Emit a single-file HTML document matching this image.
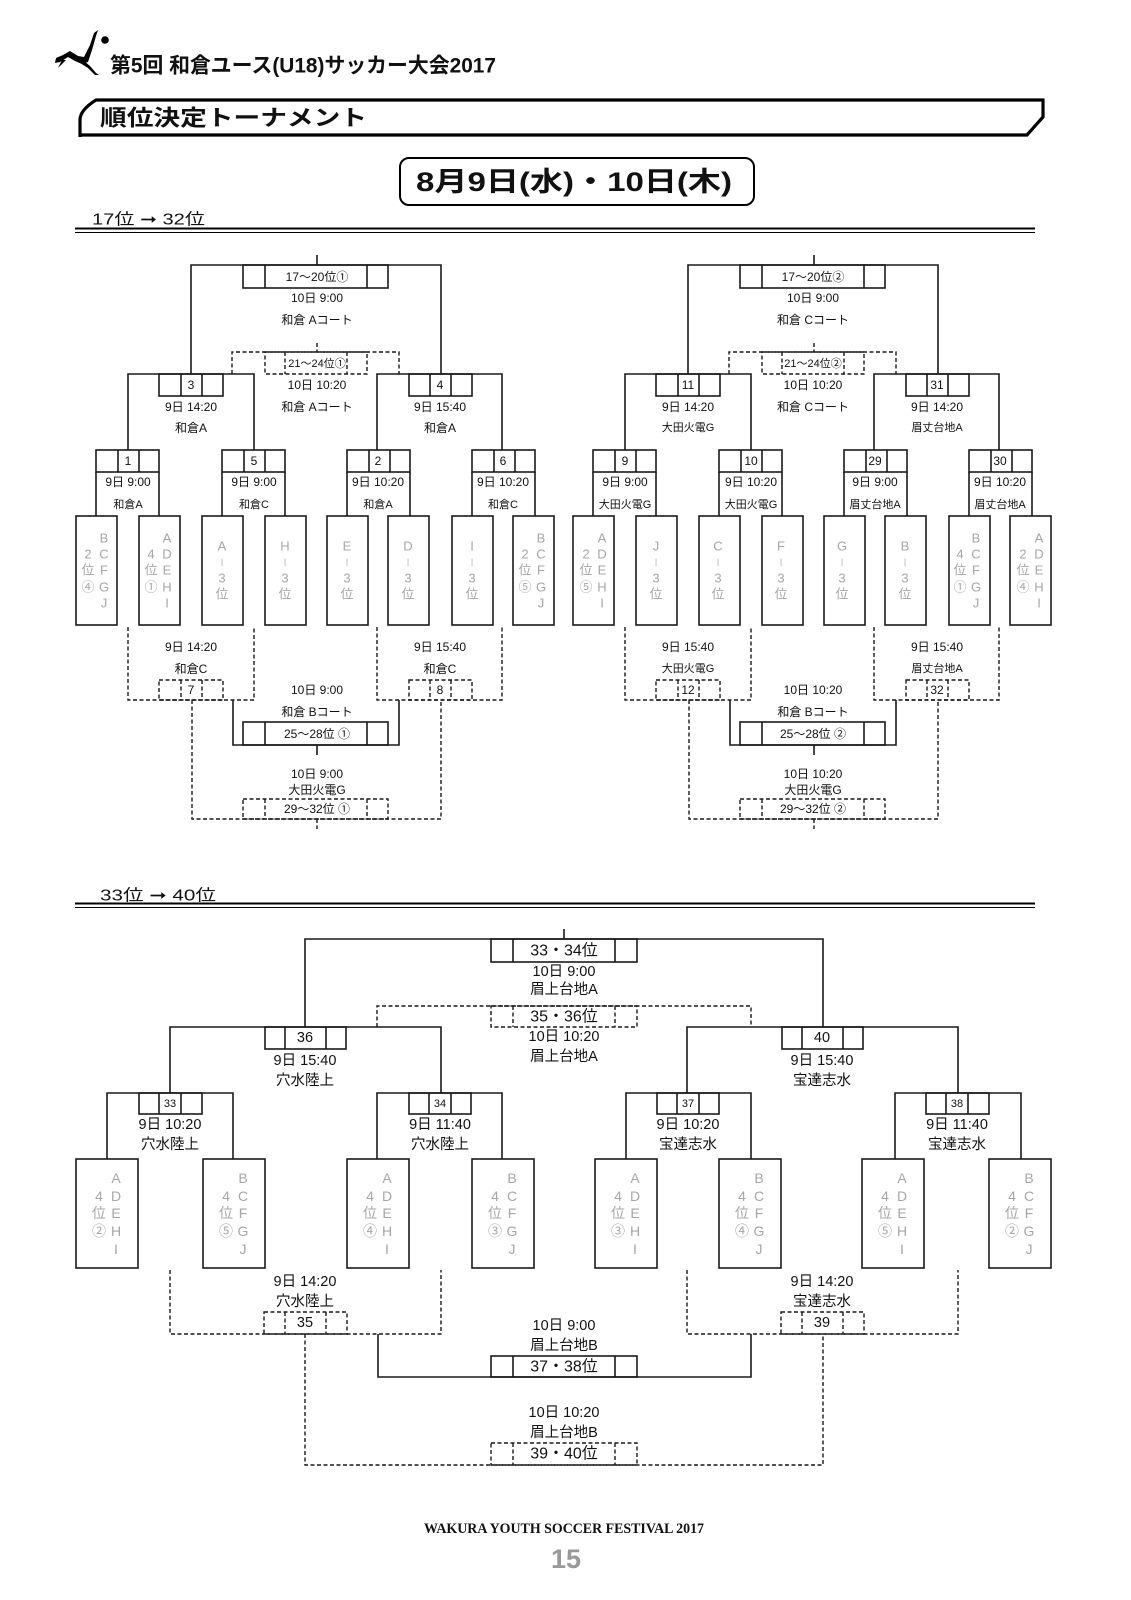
<!DOCTYPE html>
<html><head><meta charset="utf-8"><style>
html,body{margin:0;padding:0;background:#fff;}
svg{display:block;}
text{font-family:"Liberation Sans","Noto Sans CJK JP",sans-serif;fill:#111;}
.s{fill:none;stroke:#1a1a1a;stroke-width:1.6;}
.d{fill:none;stroke:#1a1a1a;stroke-width:1.4;stroke-dasharray:4 2.5;}
.g text,.g{fill:#a6a6a6;}
.t12{font-size:12px;}
.t11{font-size:11px;}
.t15{font-size:15px;}
</style></head><body>
<svg width="1131" height="1600" viewBox="0 0 1131 1600" xmlns="http://www.w3.org/2000/svg" text-anchor="middle" dominant-baseline="central">
<!-- logo -->
<g fill="#000">
<circle cx="105" cy="40" r="3.8"/>
<path d="M56 58 L63 55 L70 51 L78 56 L84 57 L90 45 L94 33 L98 30 L96 36 L92 50 L88 62 L82 64 L75 61 L68 57 L60 62 L55 63 Z"/>
<path d="M83 60 L90 66 L96 73 L99 75 L95 75 L88 68 L80 63 Z"/>
<path d="M62 60 L58 68 L56 70 L60 66 L66 60 Z"/>
</g>
<text x="110" y="66" text-anchor="start" style="font-size:21px;font-weight:bold" textLength="386" lengthAdjust="spacingAndGlyphs">第5回 和倉ユース(U18)サッカー大会2017</text>
<!-- banner -->
<path d="M80 137 V120 Q80 110 96 100 H1043 V117 L1027 135 H80" fill="none" stroke="#000" stroke-width="3.2"/>
<text x="100" y="118" text-anchor="start" style="font-size:22px;font-weight:bold" textLength="267" lengthAdjust="spacingAndGlyphs">順位決定トーナメント</text>
<!-- date box -->
<rect x="400" y="158" width="354" height="47" rx="9" ry="9" fill="none" stroke="#000" stroke-width="2"/>
<text x="574" y="182" style="font-size:27px;font-weight:bold" textLength="316" lengthAdjust="spacingAndGlyphs">8月9日(水)・10日(木)</text>
<!-- section 1 -->
<text x="92" y="220" text-anchor="start" style="font-size:16px" textLength="113" lengthAdjust="spacingAndGlyphs">17位 ➞ 32位</text>
<line x1="75" y1="228.5" x2="1035" y2="228.5" stroke="#000" stroke-width="2"/>
<line x1="75" y1="232.5" x2="1035" y2="232.5" stroke="#000" stroke-width="1"/>

<!-- TOP LEFT -->
<g id="TL">
<path class="s" d="M317 255V265M191 374V265H441V374"/>
<rect class="s" x="243" y="265" width="145" height="23"/><path class="s" d="M265 265V288M367 265V288"/>
<path class="s" d="M128 450V374H254V450M377 450V374H502V450"/>
<rect class="s" x="159" y="374" width="64" height="22"/><path class="s" d="M181 374V396M202 374V396"/>
<rect class="s" x="409" y="374" width="63" height="22"/><path class="s" d="M430 374V396M451 374V396"/>
<rect class="s" x="96" y="450" width="63" height="22"/><path class="s" d="M118 450V472M139 450V472M96 472V516M159 472V516"/>
<rect class="s" x="222" y="450" width="63" height="22"/><path class="s" d="M244 450V472M265 450V472M222 472V516M285 472V516"/>
<rect class="s" x="347" y="450" width="63" height="22"/><path class="s" d="M369 450V472M390 450V472M347 472V516M410 472V516"/>
<rect class="s" x="472" y="450" width="63" height="22"/><path class="s" d="M494 450V472M515 450V472M472 472V516M535 472V516"/>
<rect class="s" x="76" y="516" width="41" height="109"/><rect class="s" x="139" y="516" width="41" height="109"/>
<rect class="s" x="202" y="516" width="41" height="109"/><rect class="s" x="265" y="516" width="41" height="109"/>
<rect class="s" x="327" y="516" width="41" height="109"/><rect class="s" x="388" y="516" width="41" height="109"/>
<rect class="s" x="452" y="516" width="41" height="109"/><rect class="s" x="513" y="516" width="41" height="109"/>
<path class="s" d="M233 700V745H399V700M317 745V755"/>
<rect class="s" x="243" y="722" width="145" height="23"/><path class="s" d="M265 722V745M367 722V745"/>
<path class="d" d="M317 343V352M232 374V352H399V374"/>
<rect class="d" x="265" y="352" width="102" height="22"/><path class="d" d="M285 352V374M347 352V374"/>
<path class="d" d="M128 627V700H254V627M377 627V700H502V627"/>
<rect class="d" x="159" y="680" width="64" height="20"/><path class="d" d="M181 680V700M202 680V700"/>
<rect class="d" x="409" y="680" width="63" height="20"/><path class="d" d="M430 680V700M451 680V700"/>
<path class="d" d="M192 700V819H441V700M317 819V829"/>
<rect class="d" x="243" y="799" width="145" height="20"/><path class="d" d="M265 799V819M367 799V819"/>
</g>
<g class="t12">
<text x="317" y="277">17～20位①</text>
<text x="317" y="298">10日 9:00</text>
<text x="317" y="320">和倉 Aコート</text>
<text x="317" y="364" class="t11">21～24位①</text>
<text x="317" y="385">10日 10:20</text>
<text x="317" y="407">和倉 Aコート</text>
<text x="191" y="385">3</text><text x="191" y="407">9日 14:20</text><text x="191" y="428">和倉A</text>
<text x="440" y="385">4</text><text x="440" y="407">9日 15:40</text><text x="440" y="428">和倉A</text>
<text x="128" y="461">1</text><text x="128" y="482">9日 9:00</text><text x="128" y="505" class="t11">和倉A</text>
<text x="254" y="461">5</text><text x="254" y="482">9日 9:00</text><text x="254" y="505" class="t11">和倉C</text>
<text x="378" y="461">2</text><text x="378" y="482">9日 10:20</text><text x="378" y="505" class="t11">和倉A</text>
<text x="503" y="461">6</text><text x="503" y="482">9日 10:20</text><text x="503" y="505" class="t11">和倉C</text>
<text x="191" y="647">9日 14:20</text><text x="191" y="669">和倉C</text><text x="191" y="690">7</text>
<text x="440" y="647">9日 15:40</text><text x="440" y="669">和倉C</text><text x="440" y="690">8</text>
<text x="317" y="690">10日 9:00</text><text x="317" y="712">和倉 Bコート</text><text x="317" y="734">25～28位 ①</text>
<text x="317" y="774">10日 9:00</text><text x="317" y="790">大田火電G</text><text x="317" y="809">29～32位 ①</text>
</g>
<g class="g" style="font-size:13px">
<!-- left team labels -->
<text x="104" y="538">B</text><text x="104" y="554">C</text><text x="104" y="570">F</text><text x="104" y="587">G</text><text x="104" y="603">J</text>
<text x="88" y="554">2</text><text x="88" y="570">位</text><text x="88" y="587">④</text>
<text x="167" y="538">A</text><text x="167" y="554">D</text><text x="167" y="570">E</text><text x="167" y="587">H</text><text x="167" y="603">I</text>
<text x="151" y="554">4</text><text x="151" y="570">位</text><text x="151" y="587">①</text>
<text x="222" y="546">A</text><text x="222" y="562" style="font-size:8px">|</text><text x="222" y="578">3</text><text x="222" y="594">位</text>
<text x="285" y="546">H</text><text x="285" y="562" style="font-size:8px">|</text><text x="285" y="578">3</text><text x="285" y="594">位</text>
<text x="347" y="546">E</text><text x="347" y="562" style="font-size:8px">|</text><text x="347" y="578">3</text><text x="347" y="594">位</text>
<text x="408" y="546">D</text><text x="408" y="562" style="font-size:8px">|</text><text x="408" y="578">3</text><text x="408" y="594">位</text>
<text x="472" y="546">I</text><text x="472" y="562" style="font-size:8px">|</text><text x="472" y="578">3</text><text x="472" y="594">位</text>
<text x="541" y="538">B</text><text x="541" y="554">C</text><text x="541" y="570">F</text><text x="541" y="587">G</text><text x="541" y="603">J</text>
<text x="525" y="554">2</text><text x="525" y="570">位</text><text x="525" y="587">⑤</text>
<!-- right team labels -->
<text x="602" y="538">A</text><text x="602" y="554">D</text><text x="602" y="570">E</text><text x="602" y="587">H</text><text x="602" y="603">I</text>
<text x="586" y="554">2</text><text x="586" y="570">位</text><text x="586" y="587">⑤</text>
<text x="656" y="546">J</text><text x="656" y="562" style="font-size:8px">|</text><text x="656" y="578">3</text><text x="656" y="594">位</text>
<text x="718" y="546">C</text><text x="718" y="562" style="font-size:8px">|</text><text x="718" y="578">3</text><text x="718" y="594">位</text>
<text x="781" y="546">F</text><text x="781" y="562" style="font-size:8px">|</text><text x="781" y="578">3</text><text x="781" y="594">位</text>
<text x="842" y="546">G</text><text x="842" y="562" style="font-size:8px">|</text><text x="842" y="578">3</text><text x="842" y="594">位</text>
<text x="905" y="546">B</text><text x="905" y="562" style="font-size:8px">|</text><text x="905" y="578">3</text><text x="905" y="594">位</text>
<text x="976" y="538">B</text><text x="976" y="554">C</text><text x="976" y="570">F</text><text x="976" y="587">G</text><text x="976" y="603">J</text>
<text x="960" y="554">4</text><text x="960" y="570">位</text><text x="960" y="587">①</text>
<text x="1039" y="538">A</text><text x="1039" y="554">D</text><text x="1039" y="570">E</text><text x="1039" y="587">H</text><text x="1039" y="603">I</text>
<text x="1023" y="554">2</text><text x="1023" y="570">位</text><text x="1023" y="587">④</text>
</g>

<!-- TOP RIGHT (geometry shifted) -->
<use href="#TL" transform="translate(497,0)"/>
<g class="t12">
<text x="813" y="277">17～20位②</text>
<text x="813" y="298">10日 9:00</text>
<text x="813" y="320">和倉 Cコート</text>
<text x="813" y="364" class="t11">21～24位②</text>
<text x="813" y="385">10日 10:20</text>
<text x="813" y="407">和倉 Cコート</text>
<text x="688" y="385">11</text><text x="688" y="407">9日 14:20</text><text x="688" y="428" class="t11">大田火電G</text>
<text x="937" y="385">31</text><text x="937" y="407">9日 14:20</text><text x="937" y="428" class="t11">眉丈台地A</text>
<text x="625" y="461">9</text><text x="625" y="482">9日 9:00</text><text x="625" y="505" class="t11">大田火電G</text>
<text x="751" y="461">10</text><text x="751" y="482">9日 10:20</text><text x="751" y="505" class="t11">大田火電G</text>
<text x="875" y="461">29</text><text x="875" y="482">9日 9:00</text><text x="875" y="505" class="t11">眉丈台地A</text>
<text x="1000" y="461">30</text><text x="1000" y="482">9日 10:20</text><text x="1000" y="505" class="t11">眉丈台地A</text>
<text x="688" y="647">9日 15:40</text><text x="688" y="669" class="t11">大田火電G</text><text x="688" y="690">12</text>
<text x="937" y="647">9日 15:40</text><text x="937" y="669" class="t11">眉丈台地A</text><text x="937" y="690">32</text>
<text x="813" y="690">10日 10:20</text><text x="813" y="712">和倉 Bコート</text><text x="813" y="734">25～28位 ②</text>
<text x="813" y="774">10日 10:20</text><text x="813" y="790">大田火電G</text><text x="813" y="809">29～32位 ②</text>
</g>

<!-- section 2 -->
<text x="100" y="896" text-anchor="start" style="font-size:16px" textLength="116" lengthAdjust="spacingAndGlyphs">33位 ➞ 40位</text>
<line x1="75" y1="903.5" x2="1035" y2="903.5" stroke="#000" stroke-width="2"/>
<line x1="75" y1="907.5" x2="1035" y2="907.5" stroke="#000" stroke-width="1"/>

<path class="s" d="M564 929V939M305 1027V939H823V1027"/>
<rect class="s" x="491" y="939" width="146" height="23"/><path class="s" d="M513 939V962M615 939V962"/>
<path class="s" d="M170 1093V1027H441V1093M687 1093V1027H958V1093"/>
<rect class="s" x="265" y="1027" width="81" height="22"/><path class="s" d="M285 1027V1049M326 1027V1049"/>
<rect class="s" x="782" y="1027" width="81" height="22"/><path class="s" d="M802 1027V1049M843 1027V1049"/>
<path class="s" d="M107 1159V1093H233V1159M377 1159V1093H502V1159M626 1159V1093H751V1159M895 1159V1093H1021V1159"/>
<rect class="s" x="139" y="1093" width="63" height="21"/><path class="s" d="M159 1093V1114M181 1093V1114"/>
<rect class="s" x="409" y="1093" width="62" height="21"/><path class="s" d="M429 1093V1114M451 1093V1114"/>
<rect class="s" x="657" y="1093" width="62" height="21"/><path class="s" d="M677 1093V1114M699 1093V1114"/>
<rect class="s" x="926" y="1093" width="63" height="21"/><path class="s" d="M946 1093V1114M968 1093V1114"/>
<rect class="s" x="76" y="1159" width="62" height="109"/><rect class="s" x="203" y="1159" width="62" height="109"/>
<rect class="s" x="347" y="1159" width="62" height="109"/><rect class="s" x="472" y="1159" width="62" height="109"/>
<rect class="s" x="595" y="1159" width="62" height="109"/><rect class="s" x="719" y="1159" width="62" height="109"/>
<rect class="s" x="862" y="1159" width="62" height="109"/><rect class="s" x="989" y="1159" width="62" height="109"/>
<path class="s" d="M378 1334V1377H751V1334"/>
<rect class="s" x="491" y="1356" width="146" height="21"/><path class="s" d="M513 1356V1377M615 1356V1377"/>
<path class="d" d="M377 1027V1006H751V1027"/>
<rect class="d" x="491" y="1006" width="146" height="21"/><path class="d" d="M513 1006V1027M615 1006V1027"/>
<path class="d" d="M170 1270V1334H441V1270M687 1270V1334H958V1270"/>
<rect class="d" x="264" y="1312" width="83" height="22"/><path class="d" d="M285 1312V1334M326 1312V1334"/>
<rect class="d" x="781" y="1312" width="83" height="22"/><path class="d" d="M802 1312V1334M843 1312V1334"/>
<path class="d" d="M305 1334V1465H823V1334"/>
<rect class="d" x="491" y="1443" width="146" height="22"/><path class="d" d="M513 1443V1465M615 1443V1465"/>

<g style="font-size:14.5px">
<text x="564" y="951" style="font-size:16px">33・34位</text><text x="564" y="972">10日 9:00</text><text x="564" y="990">眉上台地A</text>
<text x="564" y="1017" style="font-size:16px">35・36位</text><text x="564" y="1037">10日 10:20</text><text x="564" y="1057">眉上台地A</text>
<text x="305" y="1038">36</text><text x="305" y="1061">9日 15:40</text><text x="305" y="1081">穴水陸上</text>
<text x="822" y="1038">40</text><text x="822" y="1061">9日 15:40</text><text x="822" y="1081">宝達志水</text>
<text x="170" y="1104" class="t11">33</text><text x="170" y="1125">9日 10:20</text><text x="170" y="1145">穴水陸上</text>
<text x="440" y="1104" class="t11">34</text><text x="440" y="1125">9日 11:40</text><text x="440" y="1145">穴水陸上</text>
<text x="688" y="1104" class="t11">37</text><text x="688" y="1125">9日 10:20</text><text x="688" y="1145">宝達志水</text>
<text x="957" y="1104" class="t11">38</text><text x="957" y="1125">9日 11:40</text><text x="957" y="1145">宝達志水</text>
<text x="305" y="1282">9日 14:20</text><text x="305" y="1302">穴水陸上</text><text x="305" y="1323">35</text>
<text x="822" y="1282">9日 14:20</text><text x="822" y="1302">宝達志水</text><text x="822" y="1323">39</text>
<text x="564" y="1326">10日 9:00</text><text x="564" y="1346">眉上台地B</text><text x="564" y="1367" style="font-size:16px">37・38位</text>
<text x="564" y="1413">10日 10:20</text><text x="564" y="1433">眉上台地B</text><text x="564" y="1454" style="font-size:16px">39・40位</text>
</g>
<g class="g" style="font-size:14px">
<text x="116" y="1178">A</text><text x="116" y="1196">D</text><text x="116" y="1213">E</text><text x="116" y="1231">H</text><text x="116" y="1249">I</text>
<text x="99" y="1196">4</text><text x="99" y="1213">位</text><text x="99" y="1231">②</text>
<text x="243" y="1178">B</text><text x="243" y="1196">C</text><text x="243" y="1213">F</text><text x="243" y="1231">G</text><text x="243" y="1249">J</text>
<text x="226" y="1196">4</text><text x="226" y="1213">位</text><text x="226" y="1231">⑤</text>
<text x="387" y="1178">A</text><text x="387" y="1196">D</text><text x="387" y="1213">E</text><text x="387" y="1231">H</text><text x="387" y="1249">I</text>
<text x="370" y="1196">4</text><text x="370" y="1213">位</text><text x="370" y="1231">④</text>
<text x="512" y="1178">B</text><text x="512" y="1196">C</text><text x="512" y="1213">F</text><text x="512" y="1231">G</text><text x="512" y="1249">J</text>
<text x="495" y="1196">4</text><text x="495" y="1213">位</text><text x="495" y="1231">③</text>
<text x="635" y="1178">A</text><text x="635" y="1196">D</text><text x="635" y="1213">E</text><text x="635" y="1231">H</text><text x="635" y="1249">I</text>
<text x="618" y="1196">4</text><text x="618" y="1213">位</text><text x="618" y="1231">③</text>
<text x="759" y="1178">B</text><text x="759" y="1196">C</text><text x="759" y="1213">F</text><text x="759" y="1231">G</text><text x="759" y="1249">J</text>
<text x="742" y="1196">4</text><text x="742" y="1213">位</text><text x="742" y="1231">④</text>
<text x="902" y="1178">A</text><text x="902" y="1196">D</text><text x="902" y="1213">E</text><text x="902" y="1231">H</text><text x="902" y="1249">I</text>
<text x="885" y="1196">4</text><text x="885" y="1213">位</text><text x="885" y="1231">⑤</text>
<text x="1029" y="1178">B</text><text x="1029" y="1196">C</text><text x="1029" y="1213">F</text><text x="1029" y="1231">G</text><text x="1029" y="1249">J</text>
<text x="1012" y="1196">4</text><text x="1012" y="1213">位</text><text x="1012" y="1231">②</text>
</g>

<!-- footer -->
<text x="564" y="1529" style="font-family:'Liberation Serif',serif;font-size:15px;font-weight:bold" textLength="280" lengthAdjust="spacingAndGlyphs">WAKURA YOUTH SOCCER FESTIVAL 2017</text>
<text x="566" y="1559" style="font-size:27px;font-weight:bold;fill:#999" textLength="30" lengthAdjust="spacingAndGlyphs">15</text>
</svg>
</body></html>
